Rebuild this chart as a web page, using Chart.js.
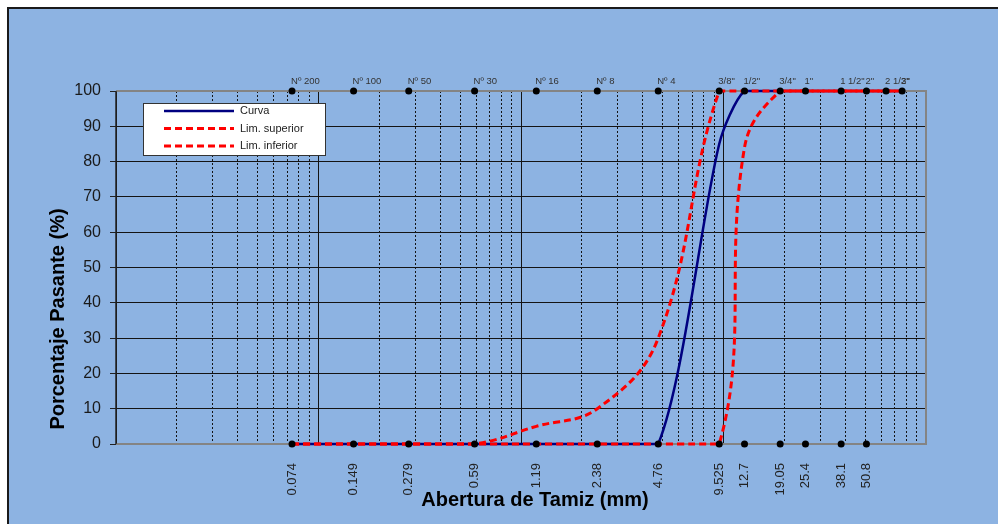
<!DOCTYPE html>
<html>
<head>
<meta charset="utf-8">
<script src="https://cdn.jsdelivr.net/npm/chart.js@4.4.0/dist/chart.umd.min.js"></script>
<style>
html, body { margin: 0; padding: 0; background: #fff; }
</style>
</head>
<body>
<canvas id="myChart" width="998" height="524"></canvas>
<script>
// tamices (mm) y su nombre
const sieveSizes = [0.074, 0.149, 0.279, 0.59, 1.19, 2.38, 4.76, 9.525, 12.7, 19.05, 25.4, 38.1, 50.8, 63.5, 76.2];
const sieveNames = ['Nº 200', 'Nº 100', 'Nº 50', 'Nº 30', 'Nº 16', 'Nº 8', 'Nº 4', '3/8"', '1/2"', '3/4"', '1"', '1 1/2"', '2"', '2 1/2"', '3"'];
const bottomSizes = [0.074, 0.149, 0.279, 0.59, 1.19, 2.38, 4.76, 9.525, 12.7, 19.05, 25.4, 38.1, 50.8];
const bottomLabels = ['0.074', '0.149', '0.279', '0.59', '1.19', '2.38', '4.76', '9.525', '12.7', '19.05', '25.4', '38.1', '50.8'];

// % pasante
const curva = [0, 0, 0, 0, 0, 0, 0, 85, 100, 100, 100, 100, 100, 100, 100];
const limSuperior = [0, 0, 0, 0, 5, 10, 30, 100, 100, 100, 100, 100, 100, 100, 100];
const limInferior = [0, 0, 0, 0, 0, 0, 0, 0, 84, 100, 100, 100, 100, 100, 100];

const FONT = '"Liberation Sans", Arial, sans-serif';

// lineas de grilla del eje log (1..9 x 10^n)
const gridValues = [];
for (let e = -2; e <= 1; e++) {
    for (let m = 1; m <= 9; m++) gridValues.push(+(m * Math.pow(10, e)).toPrecision(3));
}
gridValues.push(100);

const isDecade = (v) => {
    const lg = Math.log10(v);
    return Math.abs(lg - Math.round(lg)) < 1e-6;
};

const pts = (xs, ys) => xs.map((x, i) => ({x: x, y: ys[i]}));

const sheet = {
    id: 'sheet',
    beforeDraw(chart) {
        const ctx = chart.ctx;
        ctx.save();
        ctx.fillStyle = '#fff';
        ctx.fillRect(0, 0, chart.width, chart.height);
        ctx.fillStyle = '#8db3e2';
        ctx.fillRect(8, 8, chart.width - 8, chart.height - 8);
        ctx.strokeStyle = '#1a1a1a';
        ctx.lineWidth = 2;
        ctx.beginPath();
        ctx.moveTo(8, chart.height);
        ctx.lineTo(8, 8);
        ctx.lineTo(chart.width, 8);
        ctx.stroke();
        ctx.restore();
    },
    beforeDatasetsDraw(chart) {
        const ctx = chart.ctx;
        const a = chart.chartArea;
        ctx.save();
        ctx.strokeStyle = '#848484';
        ctx.lineWidth = 2;
        ctx.beginPath();
        ctx.moveTo(a.left, a.bottom);
        ctx.lineTo(a.right, a.bottom);
        ctx.lineTo(a.right, a.top);
        ctx.lineTo(a.left, a.top);
        ctx.stroke();
        ctx.strokeStyle = '#222';
        ctx.lineWidth = 1.5;
        ctx.beginPath();
        ctx.moveTo(a.left, a.top);
        ctx.lineTo(a.left, a.bottom);
        ctx.stroke();
        ctx.restore();
    },
    afterDatasetsDraw(chart) {
        const ctx = chart.ctx;
        const a = chart.chartArea;
        const xs = chart.scales.x;
        ctx.save();

        // etiquetas de tamices arriba
        ctx.fillStyle = '#333';
        ctx.font = '9.5px ' + FONT;
        ctx.textAlign = 'left';
        ctx.textBaseline = 'middle';
        sieveSizes.forEach((v, i) => {
            ctx.fillText(sieveNames[i], xs.getPixelForValue(v) - 1, a.top - 10);
        });

        // aberturas abajo (verticales)
        ctx.fillStyle = '#222';
        ctx.font = '13px ' + FONT;
        ctx.textAlign = 'right';
        bottomSizes.forEach((v, i) => {
            ctx.save();
            ctx.translate(xs.getPixelForValue(v), a.bottom + 19);
            ctx.rotate(-Math.PI / 2);
            ctx.fillText(bottomLabels[i], 0, 0);
            ctx.restore();
        });

        // leyenda
        const lx = a.left + 27, ly = a.top + 12;
        ctx.fillStyle = '#fff';
        ctx.fillRect(lx, ly, 182, 52);
        ctx.strokeStyle = '#333';
        ctx.lineWidth = 1;
        ctx.strokeRect(lx + 0.5, ly + 0.5, 182, 52);
        ctx.font = '11px ' + FONT;
        ctx.textAlign = 'left';
        ctx.fillStyle = '#222';
        chart.data.datasets.slice(0, 3).forEach((ds, i) => {
            const y = ly + 8 + i * 17.5;
            ctx.strokeStyle = ds.borderColor;
            ctx.lineWidth = ds.borderWidth;
            ctx.setLineDash(ds.borderDash || []);
            ctx.beginPath();
            ctx.moveTo(lx + 21, y);
            ctx.lineTo(lx + 91, y);
            ctx.stroke();
            ctx.setLineDash([]);
            ctx.fillText(ds.label, lx + 97, y);
        });

        // titulos de ejes
        ctx.fillStyle = '#000';
        ctx.font = 'bold 20px ' + FONT;
        ctx.textAlign = 'center';
        ctx.fillText('Abertura de Tamiz (mm)', a.left + 419, a.bottom + 56);
        ctx.save();
        ctx.translate(a.left - 58, a.top + 228);
        ctx.rotate(-Math.PI / 2);
        ctx.fillText('Porcentaje Pasante (%)', 0, 0);
        ctx.restore();

        ctx.restore();
    }
};

const ctx = document.getElementById('myChart');
window.chart = new Chart(ctx, {
    type: 'line',
    data: {
        datasets: [
            {
                label: 'Curva',
                data: pts(sieveSizes, curva),
                borderColor: '#000080',
                borderWidth: 2.5,
                pointRadius: 0,
                tension: 0.25,
                clip: false,
                order: 3
            },
            {
                label: 'Lim. superior',
                data: pts(sieveSizes, limSuperior),
                borderColor: '#ff0000',
                borderWidth: 3,
                borderDash: [7, 4],
                pointRadius: 0,
                tension: 0.4,
                clip: false,
                order: 2
            },
            {
                label: 'Lim. inferior',
                data: pts(sieveSizes, limInferior),
                borderColor: '#ff0000',
                borderWidth: 3,
                borderDash: [7, 4],
                pointRadius: 0,
                tension: 0.4,
                clip: false,
                order: 1
            },
            {
                label: 'tamices',
                data: sieveSizes.map(x => ({x: x, y: 100})),
                showLine: false,
                pointRadius: 3.5,
                pointBorderWidth: 0,
                pointBackgroundColor: '#000',
                clip: false,
                order: 0
            },
            {
                label: 'aberturas',
                data: bottomSizes.map(x => ({x: x, y: 0})),
                showLine: false,
                pointRadius: 3.5,
                pointBorderWidth: 0,
                pointBackgroundColor: '#000',
                clip: false,
                order: 0
            }
        ]
    },
    options: {
        responsive: false,
        animation: false,
        events: [],
        layout: { padding: { left: 0, top: 91, right: 72, bottom: 0 } },
        plugins: {
            legend: { display: false },
            tooltip: { enabled: false }
        },
        scales: {
            x: {
                type: 'logarithmic',
                min: 0.01,
                max: 100,
                afterBuildTicks: (s) => { s.ticks = gridValues.map(v => ({value: v})); },
                afterFit: (s) => { s.height = 80; },
                ticks: { display: false },
                grid: { color: '#141414', lineWidth: 1, drawTicks: false },
                border: {
                    display: false,
                    dash: (c) => (c.tick && !isDecade(c.tick.value)) ? [2, 2] : []
                }
            },
            y: {
                min: 0,
                max: 100,
                afterFit: (s) => { s.width = 116; },
                ticks: {
                    stepSize: 10,
                    color: '#1a1a1a',
                    padding: 9,
                    font: { family: FONT, size: 16 }
                },
                grid: {
                    color: (c) => (c.tick && (c.tick.value === 0 || c.tick.value === 100)) ? 'rgba(0,0,0,0)' : '#141414',
                    lineWidth: 1,
                    tickLength: 6,
                    tickColor: '#222'
                },
                border: { display: false }
            }
        }
    },
    plugins: [sheet]
});
</script>
</body>
</html>
